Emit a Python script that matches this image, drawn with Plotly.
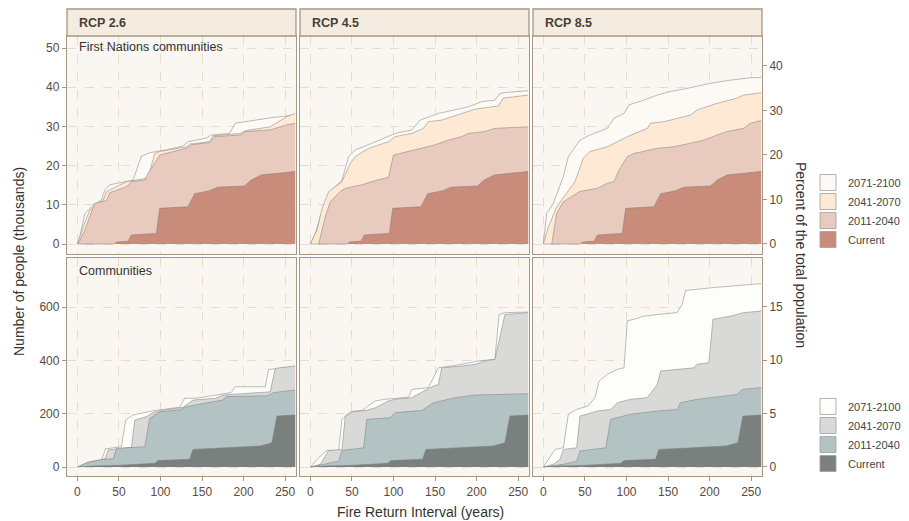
import plotly.graph_objects as go

# ---------------- DATA ----------------
SCENARIOS = ["RCP 2.6", "RCP 4.5", "RCP 8.5"]
PERIODS = ["2071-2100", "2041-2070", "2011-2040", "Current"]

# First Nations communities (thousands of people) -- current climate (same for all RCPs)
FN_CUR_X = [0, 45, 47, 61, 65, 95, 99, 133, 141, 159, 169, 201, 209, 221, 262]
FN_CUR_Y = [0, 0, 0.5, 0.7, 2.3, 2.7, 9.1, 9.5, 12.8, 13.6, 14.5, 14.8, 16.3, 17.6, 18.5]

# RCP 2.6
FN26_2011_X = [1, 9, 17, 21, 35, 39, 59, 65, 81, 85, 99, 131, 137, 159, 165, 196, 202, 232, 238, 252, 262]
FN26_2011_Y = [0, 3.6, 8.2, 10.4, 11.1, 13.1, 14.6, 15.9, 16.3, 18.0, 22.7, 24.4, 25.3, 25.9, 27.4, 27.8, 28.7, 29.1, 29.5, 30.4, 30.8]
FN26_2041_X = [0, 7, 15, 31, 35, 59, 71, 85, 93, 99, 131, 135, 159, 163, 196, 202, 232, 236, 252, 262]
FN26_2041_Y = [0, 4.4, 8.7, 11.2, 13.4, 15.9, 16.3, 16.8, 23.1, 23.6, 24.8, 25.5, 26.1, 27.6, 28.2, 28.9, 29.9, 30.4, 32.5, 33.3]
FN26_2071_X = [0, 3, 9, 19, 29, 33, 39, 67, 77, 87, 107, 127, 133, 155, 161, 183, 190, 232, 236, 262]
FN26_2071_Y = [0, 1.9, 7.8, 9.9, 11.2, 13.8, 15.1, 16.3, 22.4, 23.3, 24.0, 25.0, 26.1, 27.0, 27.8, 28.2, 30.8, 32.1, 32.3, 32.9]

# RCP 4.5
FN45_2011_X = [10, 18, 24, 36, 42, 62, 80, 94, 100, 118, 134, 150, 166, 182, 190, 210, 222, 262]
FN45_2011_Y = [0, 7.0, 10.8, 13.4, 14.2, 15.1, 16.3, 17.0, 22.7, 23.6, 24.4, 25.3, 26.5, 27.4, 28.2, 28.7, 29.5, 29.9]
FN45_2041_X = [0, 8, 14, 22, 38, 48, 54, 70, 94, 102, 122, 136, 142, 158, 198, 226, 232, 262]
FN45_2041_Y = [0, 3.6, 9.1, 13.4, 15.9, 20.6, 22.3, 24.4, 26.1, 27.4, 28.2, 29.5, 31.2, 31.6, 34.4, 35.2, 37.2, 38.0]
FN45_2071_X = [0, 6, 12, 20, 26, 38, 46, 54, 74, 102, 122, 132, 154, 190, 206, 222, 228, 238, 262]
FN45_2071_Y = [0, 2.7, 7.0, 11.2, 13.8, 16.3, 22.3, 24.0, 25.7, 28.2, 29.1, 31.6, 33.3, 35.0, 36.3, 36.7, 38.4, 38.7, 39.1]

# RCP 8.5
FN85_2011_X = [10, 16, 24, 38, 44, 65, 77, 85, 91, 101, 109, 137, 157, 185, 193, 209, 221, 241, 249, 262]
FN85_2011_Y = [0, 7.8, 10.8, 12.5, 13.4, 14.2, 15.5, 15.9, 18.9, 22.3, 23.1, 24.4, 24.8, 26.1, 26.5, 27.8, 28.7, 29.5, 30.8, 31.5]
FN85_2041_X = [0, 6, 16, 28, 38, 48, 56, 77, 93, 101, 125, 129, 145, 161, 177, 185, 197, 209, 233, 241, 262]
FN85_2041_Y = [0, 4.4, 9.5, 12.9, 15.9, 21.9, 23.6, 24.8, 26.5, 27.4, 29.5, 30.8, 31.2, 32.1, 32.9, 34.2, 35.0, 35.9, 37.2, 38.0, 38.6]
FN85_2071_X = [0, 4, 12, 24, 30, 44, 56, 77, 85, 97, 103, 121, 137, 153, 173, 201, 225, 249, 262]
FN85_2071_Y = [0, 7.8, 10.4, 17.2, 22.3, 26.5, 27.8, 29.5, 32.1, 33.3, 35.5, 36.7, 38.0, 38.9, 39.7, 41.0, 41.8, 42.4, 42.5]

# All communities (thousands of people) -- current climate
CO_CUR_X = [0, 19, 47, 93, 97, 135, 139, 171, 220, 234, 240, 262]
CO_CUR_Y = [0, 4, 6, 14, 24, 29, 66, 71, 79, 91, 191, 195]

# RCP 2.6
CO26_2011_X = [0, 11, 31, 43, 47, 81, 87, 99, 123, 129, 147, 175, 179, 228, 236, 262]
CO26_2011_Y = [0, 16, 29, 31, 70, 76, 182, 207, 214, 224, 236, 251, 264, 267, 279, 289]
CO26_2041_X = [0, 15, 33, 37, 65, 69, 83, 91, 99, 127, 139, 167, 175, 232, 238, 262]
CO26_2041_Y = [0, 20, 30, 64, 74, 176, 189, 204, 211, 224, 251, 258, 270, 282, 370, 379]
CO26_2071_X = [0, 15, 29, 34, 53, 58, 67, 75, 91, 123, 129, 143, 155, 185, 190, 226, 230, 244, 262]
CO26_2071_Y = [0, 16, 26, 68, 76, 176, 195, 201, 211, 224, 258, 258, 264, 279, 301, 301, 366, 370, 374]

# RCP 4.5
CO45_2011_X = [0, 14, 34, 38, 64, 68, 96, 102, 134, 148, 174, 198, 262]
CO45_2011_Y = [0, 10, 22, 62, 72, 179, 185, 204, 212, 241, 260, 270, 275]
CO45_2041_X = [0, 12, 22, 38, 42, 52, 66, 78, 94, 102, 122, 144, 154, 158, 182, 198, 210, 222, 234, 262]
CO45_2041_Y = [0, 10, 62, 66, 191, 208, 212, 222, 248, 254, 260, 298, 310, 372, 379, 385, 398, 404, 572, 579]
CO45_2071_X = [0, 10, 20, 34, 38, 48, 62, 78, 90, 118, 122, 142, 154, 182, 202, 222, 227, 234, 262]
CO45_2071_Y = [0, 35, 62, 62, 179, 208, 212, 248, 254, 262, 291, 298, 372, 385, 398, 404, 572, 579, 581]

# RCP 8.5
CO85_2011_X = [0, 24, 40, 44, 75, 81, 105, 137, 161, 165, 185, 209, 233, 239, 262]
CO85_2011_Y = [0, 10, 22, 60, 72, 179, 198, 210, 216, 241, 254, 264, 272, 291, 298]
CO85_2041_X = [0, 12, 20, 24, 40, 44, 65, 81, 89, 105, 125, 137, 141, 161, 181, 185, 199, 204, 225, 241, 262]
CO85_2041_Y = [0, 10, 29, 66, 72, 191, 210, 216, 241, 254, 260, 310, 360, 366, 372, 385, 391, 554, 566, 579, 585]
CO85_2071_X = [0, 8, 14, 24, 30, 40, 54, 62, 67, 77, 89, 97, 101, 109, 121, 137, 161, 167, 171, 201, 225, 249, 262]
CO85_2071_Y = [0, 35, 66, 72, 198, 216, 229, 260, 322, 348, 366, 372, 548, 554, 566, 572, 579, 610, 662, 672, 679, 685, 688]

FN_TICKS = [0, 10, 20, 30, 40, 50]
FN_PCT_TICKS = [0, 10, 20, 30, 40]
CO_TICKS = [0, 200, 400, 600]
CO_PCT_TICKS = [0, 5, 10, 15]
X_TICKS = [0, 50, 100, 150, 200, 250]

# ---------------- STYLE ----------------
FONT = "Liberation Sans, Arial, sans-serif"
FN_COLORS = {"2071-2100": "#fdfaf6", "2041-2070": "#fde9d4", "2011-2040": "#e9cabf", "Current": "#c98b7a"}
CO_COLORS = {"2071-2100": "#fdfdf9", "2041-2070": "#d9d9d7", "2011-2040": "#b3c3c3", "Current": "#7a807e"}
OUTLINE = "#7a7a7a"
BORDER = "#a99680"
GRID = "#e6dccb"
PANEL_BG = "#faf7f2"
STRIP_BG = "#f5ece1"
TICK_FONT = dict(family=FONT, size=12, color="#5a4a3c")

fn_series = [
    {"2071-2100": (FN26_2071_X, FN26_2071_Y), "2041-2070": (FN26_2041_X, FN26_2041_Y),
     "2011-2040": (FN26_2011_X, FN26_2011_Y), "Current": (FN_CUR_X, FN_CUR_Y)},
    {"2071-2100": (FN45_2071_X, FN45_2071_Y), "2041-2070": (FN45_2041_X, FN45_2041_Y),
     "2011-2040": (FN45_2011_X, FN45_2011_Y), "Current": (FN_CUR_X, FN_CUR_Y)},
    {"2071-2100": (FN85_2071_X, FN85_2071_Y), "2041-2070": (FN85_2041_X, FN85_2041_Y),
     "2011-2040": (FN85_2011_X, FN85_2011_Y), "Current": (FN_CUR_X, FN_CUR_Y)},
]
co_series = [
    {"2071-2100": (CO26_2071_X, CO26_2071_Y), "2041-2070": (CO26_2041_X, CO26_2041_Y),
     "2011-2040": (CO26_2011_X, CO26_2011_Y), "Current": (CO_CUR_X, CO_CUR_Y)},
    {"2071-2100": (CO45_2071_X, CO45_2071_Y), "2041-2070": (CO45_2041_X, CO45_2041_Y),
     "2011-2040": (CO45_2011_X, CO45_2011_Y), "Current": (CO_CUR_X, CO_CUR_Y)},
    {"2071-2100": (CO85_2071_X, CO85_2071_Y), "2041-2070": (CO85_2041_X, CO85_2041_Y),
     "2011-2040": (CO85_2011_X, CO85_2011_Y), "Current": (CO_CUR_X, CO_CUR_Y)},
]

# ---------------- LAYOUT GEOMETRY ----------------
W, H = 909, 521
ML, MR, MT, MB = 67, 147, 9, 45
PW = W - ML - MR
PH = H - MT - MB
col_px = [(67, 296), (300, 529), (533, 762)]
x_domains = [[(a - ML) / PW, (b - ML) / PW] for a, b in col_px]
top_dom = [(H - MB - 254) / PH, (H - MB - 36) / PH]
bot_dom = [0, (H - MB - 258) / PH]
strip_bottom = top_dom[1]

fig = go.Figure()

def axis_names(i):
    return ("x" if i == 1 else f"x{i}"), ("y" if i == 1 else f"y{i}")

for row, (series_list, colors) in enumerate([(fn_series, FN_COLORS), (co_series, CO_COLORS)]):
    for col in range(3):
        idx = row * 3 + col + 1
        xa, ya = axis_names(idx)
        for p in PERIODS:
            xs, ys = series_list[col][p]
            fig.add_trace(go.Scatter(
                x=xs, y=ys, mode="lines", fill="tozeroy",
                fillcolor=colors[p], line=dict(color=OUTLINE, width=0.5),
                xaxis=xa, yaxis=ya, showlegend=False, hoverinfo="skip", name=p))

# secondary (percent) axes carriers
fig.add_trace(go.Scatter(x=[None], y=[None], xaxis="x3", yaxis="y7", showlegend=False, hoverinfo="skip"))
fig.add_trace(go.Scatter(x=[None], y=[None], xaxis="x6", yaxis="y8", showlegend=False, hoverinfo="skip"))

# legend entries
for leg, colors in [("legend", FN_COLORS), ("legend2", CO_COLORS)]:
    for p in PERIODS:
        fig.add_trace(go.Scatter(
            x=[None], y=[None], mode="markers", name=p, legend=leg,
            marker=dict(symbol="square", size=16, color=colors[p], line=dict(color="#a0a0a0", width=0.8)),
            showlegend=True, hoverinfo="skip"))

layout = dict(
    width=W, height=H, margin=dict(l=ML, r=MR, t=MT, b=MB, autoexpand=False),
    paper_bgcolor="white", plot_bgcolor=PANEL_BG,
    font=dict(family=FONT, size=12, color="#333333"),
)

for row in range(2):
    for col in range(3):
        idx = row * 3 + col + 1
        xa, ya = axis_names(idx)
        xkey = "xaxis" if idx == 1 else f"xaxis{idx}"
        ykey = "yaxis" if idx == 1 else f"yaxis{idx}"
        bottom = row == 1
        left = col == 0
        layout[xkey] = dict(
            domain=x_domains[col], anchor=ya, range=[-12.5, 263],
            tickvals=X_TICKS, showticklabels=bottom, ticks="outside" if bottom else "",
            ticklen=4, tickcolor=BORDER, tickfont=TICK_FONT,
            showgrid=True, gridcolor=GRID, griddash="dash", gridwidth=1,
            showline=True, mirror=True, linecolor=BORDER, linewidth=1.3, zeroline=False,
        )
        if row == 0:
            yr, yt = [-2.55, 53.06], FN_TICKS
        else:
            yr, yt = [-33.75, 784], CO_TICKS
        layout[ykey] = dict(
            domain=top_dom if row == 0 else bot_dom, anchor=xa, range=yr,
            tickvals=yt, showticklabels=left, ticks="outside" if left else "",
            ticklen=4, tickcolor=BORDER, tickfont=TICK_FONT,
            showgrid=True, gridcolor=GRID, griddash="dash", gridwidth=1,
            showline=True, mirror=True, linecolor=BORDER, linewidth=1.3, zeroline=False,
        )

layout["yaxis7"] = dict(overlaying="y3", anchor="x3", side="right", range=[-2.25, 46.74],
                        tickvals=FN_PCT_TICKS, ticks="outside", ticklen=4, tickcolor=BORDER,
                        tickfont=TICK_FONT, showgrid=False, zeroline=False, showline=False)
layout["yaxis8"] = dict(overlaying="y6", anchor="x6", side="right", range=[-0.87, 19.6],
                        tickvals=CO_PCT_TICKS, ticks="outside", ticklen=4, tickcolor=BORDER,
                        tickfont=TICK_FONT, showgrid=False, zeroline=False, showline=False)

leg_common = dict(xanchor="left", yanchor="top", bgcolor="rgba(0,0,0,0)", traceorder="normal",
                  font=dict(family=FONT, size=11, color="#444444"), itemclick=False)
layout["legend"] = dict(x=(808 - ML) / PW, y=(H - MB - 168) / PH, **leg_common)
layout["legend2"] = dict(x=(808 - ML) / PW, y=(H - MB - 392) / PH, **leg_common)

shapes = []
annotations = []
for col in range(3):
    xa, _ = axis_names(col + 1)
    shapes.append(dict(type="rect", xref=f"{xa} domain", yref="paper", x0=0, x1=1,
                       y0=strip_bottom, y1=1, fillcolor=STRIP_BG, line=dict(color=BORDER, width=1.3),
                       layer="above"))
    annotations.append(dict(text=f"<b>{SCENARIOS[col]}</b>", xref=f"{xa} domain", yref="paper",
                            x=0.044, y=(H - MB - 23) / PH, xanchor="left", yanchor="middle",
                            showarrow=False, font=dict(family=FONT, size=12.5, color="#4a3f35")))

annotations += [
    dict(text="First Nations communities", xref="x domain", yref="y domain", x=0.044, y=0.95,
         xanchor="left", yanchor="middle", showarrow=False, font=dict(family=FONT, size=12.5, color="#333333")),
    dict(text="Communities", xref="x4 domain", yref="y4 domain", x=0.044, y=0.94,
         xanchor="left", yanchor="middle", showarrow=False, font=dict(family=FONT, size=12.5, color="#333333")),
    dict(text="Number of people (thousands)", xref="paper", yref="paper",
         x=(19 - ML) / PW, y=(H - MB - 262) / PH, textangle=-90, xanchor="center", yanchor="middle",
         showarrow=False, font=dict(family=FONT, size=14, color="#333333")),
    dict(text="Percent of the total population", xref="paper", yref="paper",
         x=(801 - ML) / PW, y=(H - MB - 255) / PH, textangle=90, xanchor="center", yanchor="middle",
         showarrow=False, font=dict(family=FONT, size=14, color="#333333")),
    dict(text="Fire Return Interval (years)", xref="paper", yref="paper",
         x=(420 - ML) / PW, y=(H - MB - 512) / PH, xanchor="center", yanchor="middle",
         showarrow=False, font=dict(family=FONT, size=14, color="#333333")),
]
layout["shapes"] = shapes
layout["annotations"] = annotations

fig.update_layout(**layout)
fig.write_html("out.html", config={"displayModeBar": False},
               post_script="document.body.style.margin='0';document.body.style.padding='0';")
